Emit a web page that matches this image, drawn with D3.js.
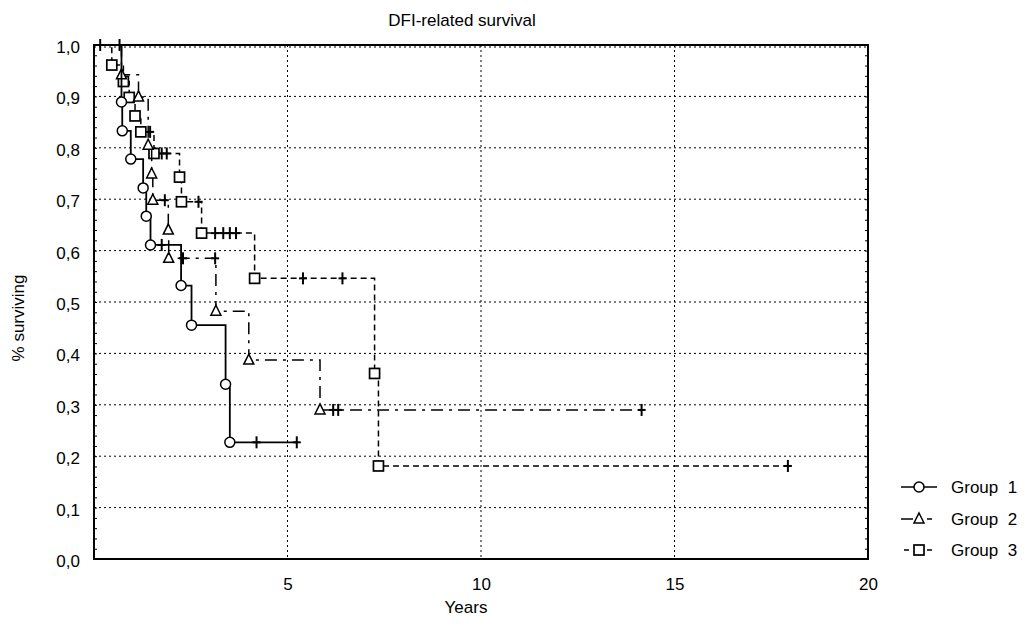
<!DOCTYPE html>
<html>
<head>
<meta charset="utf-8">
<script src="https://cdn.jsdelivr.net/npm/d3@7"></script>
<style>
  body { margin: 0; background: #fff; }
  text { font-family: "Liberation Sans", Arial, sans-serif; fill: #000; }
</style>
</head>
<body>
<svg id="chart" width="1026" height="630"></svg>
<script>
// Kaplan-Meier steps: [years, survival after the event]
var group1Events = [[0.71, 0.889], [0.73, 0.833], [0.95, 0.778], [1.27, 0.722], [1.35, 0.667],
                    [1.46, 0.611], [2.25, 0.532], [2.52, 0.455], [3.40, 0.340], [3.51, 0.227]];
var group1Censored = [0.16, 1.75, 4.20, 5.24];

var group2Events = [[0.71, 0.942], [1.15, 0.899], [1.40, 0.805], [1.49, 0.749], [1.52, 0.698],
                    [1.92, 0.640], [1.93, 0.585], [3.15, 0.482], [4.00, 0.387], [5.84, 0.290]];
var group2Censored = [0.66, 1.83, 2.30, 3.13, 6.18, 6.31, 14.15];

var group3Events = [[0.46, 0.961], [0.76, 0.929], [0.91, 0.898], [1.06, 0.862], [1.21, 0.831],
                    [1.55, 0.789], [2.21, 0.743], [2.26, 0.695], [2.78, 0.634], [4.15, 0.546],
                    [7.25, 0.361], [7.35, 0.181]];
var group3Censored = [1.45, 1.75, 1.88, 2.70, 3.13, 3.34, 3.51, 3.67, 5.40, 6.42, 17.93];

var groupNames = ["Group  1", "Group  2", "Group  3"];
var xTicks = [5, 10, 15, 20];
var yTicks = [0, 0.1, 0.2, 0.3, 0.4, 0.5, 0.6, 0.7, 0.8, 0.9, 1.0];

var svg = d3.select("#chart");
var plotLeft = 94, plotRight = 868, plotTop = 45, plotBottom = 559;

var x = d3.scaleLinear().domain([0, 20]).range([plotLeft, plotRight]);
var y = d3.scaleLinear().domain([0, 1]).range([plotBottom, plotTop]);
var comma = function(d) { return d3.format(".1f")(d).replace(".", ","); };

// Title and axis labels
svg.append("text").attr("x", 462).attr("y", 26).attr("text-anchor", "middle")
    .style("font-size", "17px").text("DFI-related survival");
svg.append("text").attr("x", 466).attr("y", 613).attr("text-anchor", "middle")
    .style("font-size", "17px").text("Years");
svg.append("text").attr("transform", "translate(24,318) rotate(-90)").attr("text-anchor", "middle")
    .style("font-size", "17px").text("% surviving");

// Dotted grid
var grid = svg.append("g").attr("stroke", "#000").attr("stroke-width", 1).attr("stroke-dasharray", "2,3");
grid.selectAll("line.h").data(yTicks.filter(function(d) { return d > 0 && d < 1; })).enter()
    .append("line").attr("class", "h")
    .attr("x1", plotLeft).attr("x2", plotRight)
    .attr("y1", function(d) { return y(d); }).attr("y2", function(d) { return y(d); });
grid.selectAll("line.v").data(xTicks.filter(function(d) { return d < 20; })).enter()
    .append("line").attr("class", "v")
    .attr("y1", plotTop).attr("y2", plotBottom)
    .attr("x1", function(d) { return x(d); }).attr("x2", function(d) { return x(d); });
grid.append("line").attr("x1", plotLeft).attr("x2", plotRight).attr("y1", plotTop + 2).attr("y2", plotTop + 2);

// Y axis: labels plus little inward ticks on both sides
var yAxis = d3.axisLeft(y).tickValues(yTicks).tickFormat(comma).tickSize(0).tickPadding(14);
svg.append("g").attr("transform", "translate(" + plotLeft + ",2)").call(yAxis)
    .call(function(g) { g.select(".domain").remove(); })
    .selectAll("text").style("font-size", "17px").style("font-family", "Liberation Sans, Arial, sans-serif");

var minor = d3.range(0, 1.001, 0.02);
svg.append("g").call(d3.axisRight(y).tickValues(minor).tickSize(3).tickFormat(""))
    .attr("transform", "translate(" + plotLeft + ",0)")
    .call(function(g) { g.select(".domain").remove(); });
svg.append("g").call(d3.axisLeft(y).tickValues(minor).tickSize(3).tickFormat(""))
    .attr("transform", "translate(" + plotRight + ",0)")
    .call(function(g) { g.select(".domain").remove(); });

// X axis labels
var xAxis = d3.axisBottom(x).tickValues(xTicks).tickSize(0).tickPadding(19);
svg.append("g").attr("transform", "translate(0," + plotBottom + ")").call(xAxis)
    .call(function(g) { g.select(".domain").remove(); })
    .selectAll("text").style("font-size", "17px").style("font-family", "Liberation Sans, Arial, sans-serif");

// Frame
svg.append("rect").attr("x", plotLeft).attr("y", plotTop)
    .attr("width", plotRight - plotLeft).attr("height", plotBottom - plotTop)
    .attr("fill", "none").attr("stroke", "#000").attr("stroke-width", 2);

// Marker shapes
function drawMarker(g, kind, cx, cy) {
    if (kind == "circle") {
        g.append("circle").attr("cx", cx).attr("cy", cy).attr("r", 5)
            .attr("fill", "#fff").attr("stroke", "#000").attr("stroke-width", 1.5);
    } else if (kind == "triangle") {
        g.append("path").attr("d", "M" + cx + "," + (cy - 6) + "L" + (cx + 5) + "," + (cy + 4) + "L" + (cx - 5) + "," + (cy + 4) + "Z")
            .attr("fill", "#fff").attr("stroke", "#000").attr("stroke-width", 1.5);
    } else {
        g.append("rect").attr("x", cx - 5).attr("y", cy - 5).attr("width", 10).attr("height", 10)
            .attr("fill", "#fff").attr("stroke", "#000").attr("stroke-width", 1.7);
    }
}

function survivalAt(events, t) {
    var s = 1;
    events.forEach(function(e) { if (e[0] <= t) s = e[1]; });
    return s;
}

var groups = [
    { events: group1Events, censored: group1Censored, marker: "circle", dash: null, width: 1.8 },
    { events: group2Events, censored: group2Censored, marker: "triangle", dash: "12,6,3,6", width: 1.5 },
    { events: group3Events, censored: group3Censored, marker: "square", dash: "6,4", width: 1.5 }
];

var stepLine = d3.line()
    .x(function(d) { return x(d[0]); })
    .y(function(d) { return y(d[1]); })
    .curve(d3.curveStepAfter);

// Draw group 3 first so group 1 sits on top
groups.slice().reverse().forEach(function(gr) {
    var g = svg.append("g");
    var last = gr.events[gr.events.length - 1];
    var end = Math.max(d3.max(gr.censored), last[0]);
    var pts = [[0, 1]].concat(gr.events.map(function(e) { return [e[0], e[1]]; }));
    pts.push([end, last[1]]);

    g.append("path").attr("d", stepLine(pts)).attr("fill", "none")
        .attr("stroke", "#000").attr("stroke-width", gr.width)
        .attr("stroke-dasharray", gr.dash);

    gr.censored.forEach(function(t) {
        var cy = y(survivalAt(gr.events, t));
        g.append("line").attr("x1", x(t)).attr("x2", x(t)).attr("y1", cy - 6).attr("y2", cy + 6)
            .attr("stroke", "#000").attr("stroke-width", 2);
        g.append("line").attr("x1", x(t) - 4).attr("x2", x(t) + 4).attr("y1", cy).attr("y2", cy)
            .attr("stroke", "#000").attr("stroke-width", 2);
    });

    gr.events.forEach(function(e) { drawMarker(g, gr.marker, x(e[0]), y(e[1])); });
});

// Legend
var legendY = [487, 519, 550];
var legend = svg.append("g");
groups.forEach(function(gr, i) {
    var ly = legendY[i];
    if (i == 0) {
        legend.append("line").attr("x1", 901).attr("x2", 937).attr("y1", ly).attr("y2", ly)
            .attr("stroke", "#000").attr("stroke-width", 1.5);
    } else if (i == 1) {
        legend.append("line").attr("x1", 901).attr("x2", 913).attr("y1", ly).attr("y2", ly)
            .attr("stroke", "#000").attr("stroke-width", 1.5);
        legend.append("line").attr("x1", 927).attr("x2", 932).attr("y1", ly).attr("y2", ly)
            .attr("stroke", "#000").attr("stroke-width", 1.5);
    } else {
        legend.append("line").attr("x1", 904).attr("x2", 909).attr("y1", ly).attr("y2", ly)
            .attr("stroke", "#000").attr("stroke-width", 1.5);
        legend.append("line").attr("x1", 927).attr("x2", 932).attr("y1", ly).attr("y2", ly)
            .attr("stroke", "#000").attr("stroke-width", 1.5);
    }
    drawMarker(legend, gr.marker, 919, ly);
    legend.append("text").attr("x", 951).attr("y", ly + 6).style("font-size", "17px")
        .attr("xml:space", "preserve").style("white-space", "pre").text(groupNames[i]);
});
</script>
</body>
</html>
